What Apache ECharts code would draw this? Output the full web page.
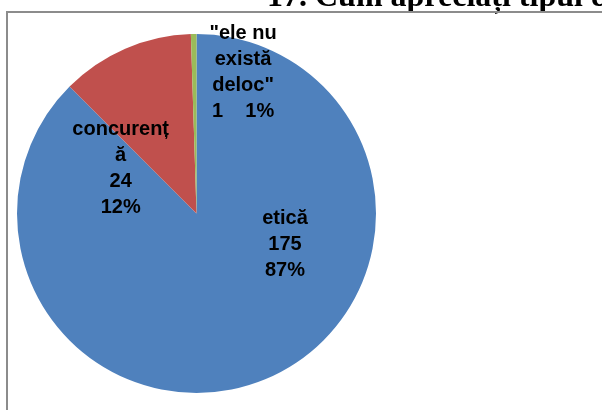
<!DOCTYPE html>
<html>
<head>
<meta charset="utf-8">
<script src="https://cdn.jsdelivr.net/npm/echarts@6/dist/echarts.min.js"></script>
<style>
  html, body { margin: 0; padding: 0; background: #fff; }
  #main { width: 602px; height: 410px; }
</style>
</head>
<body>
<div id="main"></div>
<script>
// date din grafic
var categories = ['etică', 'concurenț\nă', '"ele nu\nexistă\ndeloc"'];
var values = [175, 24, 1];
var percentLabels = ['87%', '12%', '1%'];
var colors = ['#4F81BD', '#C0504D', '#9BBB59'];

var chart = echarts.init(document.getElementById('main'));

// deplasarea etichetelor fata de pozitia "inside"
var offsets = [[53, -55], [-39, 40], [48, -48]];

var pieData = values.map(function (v, i) {
    return {
        name: categories[i],
        value: v,
        itemStyle: { color: colors[i] },
        label: { offset: offsets[i] }
    };
});

var option = {
    animation: false,
    graphic: [
        {
            type: 'text',
            left: 267,
            top: -18,
            style: {
                text: '17. Cum apreciați tipul de etică',
                font: 'bold 32px "Liberation Serif", "Times New Roman", serif',
                fill: '#000'
            },
            z: 1
        },
        {
            type: 'rect',
            shape: { x: 7, y: 12, width: 700, height: 500 },
            style: { fill: 'none', stroke: '#8c8c8c', lineWidth: 2 },
            z: 2
        }
    ],
    series: [{
        type: 'pie',
        center: [196.5, 213.5],
        radius: [0, 179.5],
        startAngle: 90,
        clockwise: true,
        z: 3,
        label: {
            show: true,
            position: 'inside',
            color: '#000',
            fontFamily: '"Liberation Sans", Arial, sans-serif',
            fontWeight: 'bold',
            fontSize: 20,
            lineHeight: 26,
            formatter: function (p) {
                if (p.dataIndex === 2) {
                    return p.name + '\n' + p.value + '    ' + percentLabels[p.dataIndex];
                }
                return p.name + '\n' + p.value + '\n' + percentLabels[p.dataIndex];
            }
        },
        labelLine: { show: false },
        itemStyle: { borderWidth: 0 },
        emphasis: { disabled: true },
        data: pieData
    }]
};

chart.setOption(option);
</script>
</body>
</html>
